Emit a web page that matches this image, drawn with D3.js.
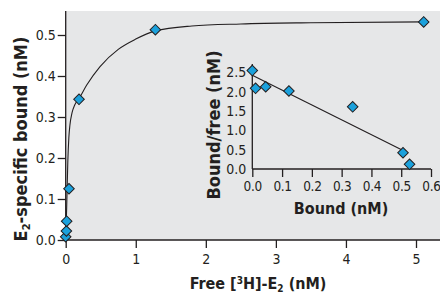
<!DOCTYPE html>
<html>
<head>
<meta charset="utf-8">
<script src="https://cdn.jsdelivr.net/npm/d3@7"></script>
<style>
  body { margin: 0; background: #fff; }
  svg text { font-family: "Liberation Sans Narrow", "DejaVu Sans Condensed", sans-serif; fill: #231f20; }
</style>
</head>
<body>
<div id="chart"></div>
<script>
// Saturation binding data
let freeE2 = [0.0, 0.01, 0.014, 0.047, 0.19, 1.28, 5.11];
let boundE2 = [0.008, 0.022, 0.046, 0.125, 0.343, 0.513, 0.532];

// fitted curve
let curveFree = [0.0, 0.005, 0.014, 0.03, 0.045, 0.06, 0.09, 0.13, 0.19, 0.3, 0.49, 0.75, 1.0, 1.28, 1.8, 2.5, 3.5, 5.11];
let curveBound = [0.0, 0.03, 0.08, 0.19, 0.25, 0.28, 0.31, 0.33, 0.345, 0.378, 0.423, 0.465, 0.49, 0.51, 0.522, 0.527, 0.53, 0.532];

// Scatchard inset
let scBound = [0.0, 0.011, 0.045, 0.123, 0.337, 0.506, 0.528];
let scRatio = [2.55, 2.09, 2.13, 2.02, 1.61, 0.42, 0.12];
let fitBound = [0.0, 0.508];
let fitRatio = [2.43, 0.47];

let mainXTicks = [0, 1, 2, 3, 4, 5];
let mainYTicks = [0, 0.1, 0.2, 0.3, 0.4, 0.5];
let insetXTicks = [0, 0.1, 0.2, 0.3, 0.4, 0.5, 0.6];
let insetYTicks = [0, 0.5, 1.0, 1.5, 2.0, 2.5];

let width = 440, height = 294;
let axisColor = '#231f20';

let svg = d3.select('#chart').append('svg')
    .attr('width', width)
    .attr('height', height);

// main scales
let x = d3.scaleLinear().domain([0, 5]).range([65.7, 416]);
let y = d3.scaleLinear().domain([0, 0.5]).range([240, 35]);

// gray panel
svg.append('rect')
    .attr('x', x(0))
    .attr('y', 11)
    .attr('width', width - x(0))
    .attr('height', y(0) - 11)
    .attr('fill', '#e6e7e8');

// main axes
let xAxis = svg.append('g')
    .attr('transform', `translate(0,${y(0)})`)
    .call(d3.axisBottom(x).tickValues(mainXTicks).tickSize(8).tickPadding(6).tickFormat(d3.format('d')));
xAxis.select('.domain').attr('d', `M${x(0)},0H${width}`);

let yAxis = svg.append('g')
    .attr('transform', `translate(${x(0)},0)`)
    .call(d3.axisLeft(y).tickValues(mainYTicks).tickSize(8).tickPadding(2).tickFormat(d3.format('.1f')));
yAxis.select('.domain').attr('d', `M0,11V${y(0)}`);

svg.selectAll('.tick text').style('font-size', '14px');
svg.selectAll('.domain, .tick line').attr('stroke', axisColor).attr('stroke-width', 1.3);

// curve
let line = d3.line()
    .x((d) => x(d[0]))
    .y((d) => y(d[1]))
    .curve(d3.curveMonotoneX);

svg.append('path')
    .datum(curveFree.map((f, i) => [f, curveBound[i]]))
    .attr('d', line)
    .attr('fill', 'none')
    .attr('stroke', '#231f20')
    .attr('stroke-width', 1.1);

let diamond = d3.symbol().type(d3.symbolSquare).size(56);

function drawPoints(xs, ys, sx, sy) {
    svg.append('g').selectAll('path')
        .data(xs.map((v, i) => [v, ys[i]]))
        .join('path')
        .attr('d', diamond)
        .attr('transform', (d) => `translate(${sx(d[0])},${sy(d[1])}) rotate(45)`)
        .attr('fill', '#1ba1dc')
        .attr('stroke', '#231f20')
        .attr('stroke-width', 1);
}
drawPoints(freeE2, boundE2, x, y);

// main axis titles
let xTitle = svg.append('text')
    .attr('x', 258)
    .attr('y', 289)
    .attr('text-anchor', 'middle')
    .style('font-size', '16px')
    .style('font-weight', 'bold');
xTitle.append('tspan').text('Free [');
xTitle.append('tspan').text('3').style('font-size', '10px').attr('baseline-shift', '5');
xTitle.append('tspan').text('H]-E');
xTitle.append('tspan').text('2').style('font-size', '10px').attr('baseline-shift', '-3');
xTitle.append('tspan').text(' (nM)');

let yTitle = svg.append('text')
    .attr('transform', 'translate(27,139) rotate(-90)')
    .attr('text-anchor', 'middle')
    .style('font-size', '18px')
    .style('font-weight', 'bold');
yTitle.append('tspan').text('E');
yTitle.append('tspan').text('2').style('font-size', '11px').attr('baseline-shift', '-3');
yTitle.append('tspan').text('-specific bound (nM)');

// ****************** inset ***************************
let xi = d3.scaleLinear().domain([0, 0.6]).range([252.3, 431]);
let yi = d3.scaleLinear().domain([0, 2.5]).range([169, 72.5]);

let inset = svg.append('g');

let ixAxis = inset.append('g')
    .attr('transform', `translate(0,${yi(0)})`)
    .call(d3.axisBottom(xi).tickValues(insetXTicks).tickSize(8).tickPadding(4).tickFormat(d3.format('.1f')));
ixAxis.select('.domain').attr('d', `M${xi(0)},0H${xi(0.6)}`);

let iyAxis = inset.append('g')
    .attr('transform', `translate(${xi(0)},0)`)
    .call(d3.axisLeft(yi).tickValues(insetYTicks).tickSize(0).tickPadding(6).tickFormat(d3.format('.1f')));
iyAxis.select('.domain').attr('d', `M0,64V${yi(0)}`);

inset.selectAll('.tick text').style('font-size', '14px');
ixAxis.selectAll('.tick text').style('font-size', '13.5px').style('letter-spacing', '-0.3px');
inset.selectAll('.domain, .tick line').attr('stroke', axisColor).attr('stroke-width', 1.3);

inset.append('line')
    .attr('x1', xi(fitBound[0])).attr('y1', yi(fitRatio[0]))
    .attr('x2', xi(fitBound[1])).attr('y2', yi(fitRatio[1]))
    .attr('stroke', '#231f20')
    .attr('stroke-width', 1.1);

drawPoints(scBound, scRatio, xi, yi);

inset.append('text')
    .attr('x', 341)
    .attr('y', 214)
    .attr('text-anchor', 'middle')
    .style('font-size', '16px')
    .style('font-weight', 'bold')
    .text('Bound (nM)');

inset.append('text')
    .attr('transform', 'translate(220,125) rotate(-90)')
    .attr('text-anchor', 'middle')
    .style('font-size', '18px')
    .style('font-weight', 'bold')
    .text('Bound/free (nM)');
</script>
</body>
</html>
